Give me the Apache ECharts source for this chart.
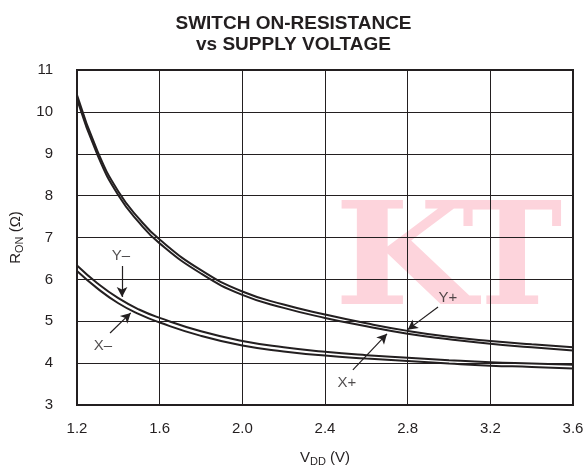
<!DOCTYPE html>
<html>
<head>
<meta charset="utf-8">
<script src="https://cdn.jsdelivr.net/npm/echarts@6/dist/echarts.min.js"></script>
<style>
  html, body { margin: 0; padding: 0; background: #fff; }
  #chart { width: 587px; height: 472px; }
</style>
</head>
<body>
<div id="chart"></div>
<script>
// supply voltage (V)
const vdd = [1.2, 1.3, 1.4, 1.5, 1.6, 1.8, 2.0, 2.2, 2.4, 2.6, 2.8, 3.0, 3.2, 3.4, 3.6];

// on-resistance (ohm)
const yPlus  = [10.40, 9.05, 8.10, 7.45, 6.95, 6.22, 5.71, 5.40, 5.16, 4.95, 4.77, 4.63, 4.53, 4.45, 4.38];
const xPlus  = [10.30, 8.96, 8.01, 7.36, 6.86, 6.14, 5.63, 5.32, 5.08, 4.88, 4.70, 4.57, 4.46, 4.38, 4.30];
const yMinus = [6.33, 5.90, 5.55, 5.28, 5.08, 4.76, 4.53, 4.38, 4.27, 4.19, 4.13, 4.07, 4.02, 3.99, 3.96];
const xMinus = [6.20, 5.78, 5.43, 5.17, 4.97, 4.65, 4.42, 4.28, 4.18, 4.11, 4.05, 3.99, 3.94, 3.91, 3.87];

// curve labels and their arrows (data units)
const labelNames = ['Y+', 'X+', 'Y\u2013', 'X\u2013'];
const labelPos   = [[2.995, 5.56], [2.506, 3.52], [1.413, 6.56], [1.326, 4.41]];
const arrowFrom  = [[2.947, 5.34], [2.535, 3.84], [1.418, 6.32], [1.360, 4.72]];
const arrowTo    = [[2.800, 4.80], [2.700, 4.70], [1.418, 5.58], [1.460, 5.20]];

const ink = '#231f20';
const font = 'Liberation Sans, Arial, sans-serif';

function pairs(ys) {
  return vdd.map((v, i) => [v, ys[i]]);
}

function curve(name, ys) {
  return {
    name: name,
    type: 'line',
    data: pairs(ys),
    smooth: true,
    showSymbol: false,
    symbol: 'none',
    lineStyle: { color: ink, width: 2 },
    z: 3
  };
}

function watermark(letter, left, sx) {
  return {
    type: 'text',
    left: left,
    top: 196,
    z: -10,
    silent: true,
    scaleX: sx,
    style: {
      text: letter,
      fill: '#fdd4dc',
      fontFamily: 'DejaVu Serif',
      fontWeight: 'bold',
      fontSize: 142
    }
  };
}

let myChart = echarts.init(document.getElementById('chart'), null, { renderer: 'canvas' });

let series = [
  curve('Y+', yPlus),
  curve('X+', xPlus),
  curve('Y-', yMinus),
  curve('X-', xMinus),
  {
    name: 'labels',
    type: 'scatter',
    symbolSize: 0,
    silent: true,
    data: labelPos.map((p, i) => [p[0], p[1], labelNames[i]]),
    label: {
      show: true,
      position: 'inside',
      formatter: p => p.data[2],
      color: ink,
      fontSize: 15,
      fontFamily: font
    },
    markLine: {
      silent: true,
      symbol: ['none', 'arrow'],
      symbolSize: [8, 10],
      lineStyle: { color: ink, width: 1.2, type: 'solid' },
      label: { show: false },
      data: arrowFrom.map((p, i) => [{ coord: p }, { coord: arrowTo[i] }])
    },
    z: 4
  }
];

myChart.setOption({
  animation: false,
  title: {
    text: 'SWITCH ON-RESISTANCE\nvs SUPPLY VOLTAGE',
    left: 'center',
    top: 8,
    textStyle: {
      color: ink,
      fontSize: 19,
      fontWeight: 'bold',
      lineHeight: 21,
      fontFamily: font
    }
  },
  graphic: [
    watermark('K', 334, 1.15),
    watermark('T', 462, 0.95)
  ],
  grid: {
    left: 77,
    right: 14,
    top: 70,
    bottom: 67,
    show: true,
    borderColor: ink,
    borderWidth: 2,
    outerBoundsMode: 'none'
  },
  xAxis: {
    type: 'value',
    min: 1.2,
    max: 3.6,
    interval: 0.4,
    name: '{r|V}{s|DD}{r| (V)}',
    nameLocation: 'middle',
    nameGap: 43,
    nameTextStyle: {
      rich: {
        r: { fontSize: 15, color: ink, fontFamily: font },
        s: { fontSize: 11, color: ink, fontFamily: font, padding: [8, 0, 0, 0] }
      }
    },
    axisLine: { show: true, lineStyle: { color: ink, width: 2 } },
    axisTick: { show: false },
    axisLabel: {
      margin: 16,
      color: ink,
      fontSize: 15,
      fontFamily: font,
      formatter: v => v.toFixed(1)
    },
    splitLine: { show: true, lineStyle: { color: ink, width: 1 } }
  },
  yAxis: {
    type: 'value',
    min: 3,
    max: 11,
    interval: 1,
    name: '{r|R}{s|ON}{r| (\u03a9)}',
    nameLocation: 'middle',
    nameGap: 50,
    nameTextStyle: {
      rich: {
        r: { fontSize: 15, color: ink, fontFamily: font },
        s: { fontSize: 11, color: ink, fontFamily: font, padding: [8, 0, 0, 0] }
      }
    },
    axisLine: { show: true, lineStyle: { color: ink, width: 2 } },
    axisTick: { show: false },
    axisLabel: {
      margin: 24,
      color: ink,
      fontSize: 15,
      fontFamily: font
    },
    splitLine: { show: true, lineStyle: { color: ink, width: 1 } }
  },
  series: series
});
</script>
</body>
</html>
